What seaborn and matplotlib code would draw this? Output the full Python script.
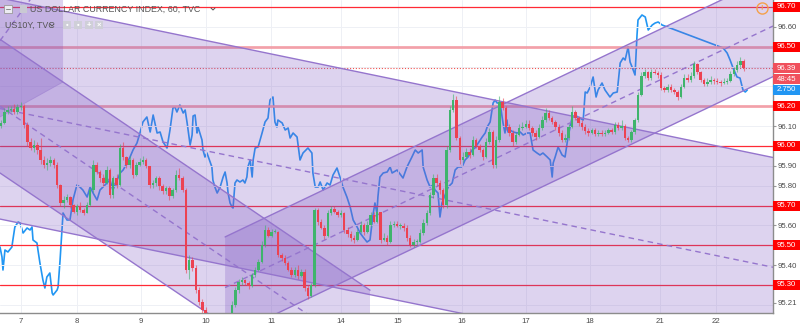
import numpy as np
import matplotlib
matplotlib.use("Agg")
import matplotlib.pyplot as plt
import seaborn as sns
from matplotlib.patches import Polygon, Rectangle
from matplotlib.lines import Line2D
from matplotlib.transforms import blended_transform_factory

sns.set_theme(style="white")
plt.rcParams["font.family"] = ["Liberation Sans", "DejaVu Sans"]

# ---------------- US Dollar Index, 60-minute bars ----------------
first_open = 96.10
close = [
    96.116, 96.171, 96.181, 96.186, 96.171, 96.196, 96.201, 96.106, 96.020, 95.990,
    96.005, 95.980, 95.929, 95.904, 95.914, 95.929, 95.904, 95.803, 95.713, 95.728,
    95.743, 95.703, 95.668, 95.698, 95.678, 95.663, 95.703, 95.778, 95.904, 95.869,
    95.839, 95.814, 95.879, 95.753, 95.839, 95.803, 95.990, 95.945, 95.904, 95.929,
    95.854, 95.904, 95.919, 95.929, 95.899, 95.803, 95.814, 95.839, 95.798, 95.773,
    95.788, 95.748, 95.778, 95.854, 95.839, 95.778, 95.376, 95.426, 95.386, 95.275,
    95.214, 95.174, 95.124, 95.048, 94.998, 94.973, 94.998, 95.023, 94.998, 95.048,
    95.199, 95.275, 95.315, 95.325, 95.310, 95.295, 95.350, 95.376, 95.416, 95.501,
    95.577, 95.547, 95.567, 95.567, 95.451, 95.436, 95.411, 95.376, 95.350, 95.376,
    95.345, 95.365, 95.285, 95.245, 95.300, 95.678, 95.617, 95.587, 95.547, 95.663,
    95.683, 95.668, 95.652, 95.663, 95.577, 95.557, 95.537, 95.527, 95.567, 95.602,
    95.567, 95.602, 95.652, 95.617, 95.668, 95.527, 95.537, 95.517, 95.602, 95.607,
    95.597, 95.597, 95.587, 95.537, 95.501, 95.517, 95.517, 95.562, 95.612, 95.663,
    95.753, 95.839, 95.814, 95.778, 95.703, 95.980, 96.181, 96.231, 96.040, 95.929,
    95.945, 95.970, 95.955, 96.030, 96.000, 95.980, 95.945, 96.020, 96.070, 95.904,
    96.030, 96.221, 96.191, 96.096, 96.065, 96.020, 96.055, 96.091, 96.096, 96.111,
    96.091, 96.065, 96.045, 96.091, 96.131, 96.166, 96.141, 96.121, 96.096, 96.065,
    96.030, 96.040, 96.096, 96.171, 96.141, 96.116, 96.096, 96.075, 96.065, 96.080,
    96.060, 96.065, 96.060, 96.065, 96.080, 96.070, 96.106, 96.091, 96.101, 96.040,
    96.030, 96.070, 96.131, 96.257, 96.352, 96.372, 96.342, 96.372, 96.367, 96.357,
    96.292, 96.282, 96.297, 96.282, 96.272, 96.247, 96.297, 96.342, 96.332, 96.352,
    96.413, 96.372, 96.332, 96.312, 96.322, 96.332, 96.327, 96.322, 96.317, 96.322,
    96.327, 96.362, 96.383, 96.408, 96.428, 96.392,
]
high = [
    96.13, 96.19, 96.20, 96.20, 96.21, 96.21, 96.22, 96.21, 96.12, 96.04,
    96.03, 96.02, 96.04, 95.95, 95.94, 95.95, 95.94, 95.92, 95.81, 95.75,
    95.76, 95.75, 95.71, 95.71, 95.72, 95.69, 95.72, 95.79, 95.93, 95.92,
    95.88, 95.86, 95.90, 95.89, 95.85, 95.86, 96.01, 96.02, 95.95, 95.95,
    95.94, 95.92, 95.94, 95.95, 95.94, 95.90, 95.83, 95.85, 95.85, 95.81,
    95.80, 95.80, 95.79, 95.88, 95.89, 95.85, 95.79, 95.45, 95.44, 95.40,
    95.29, 95.23, 95.19, 95.13, 95.06, 95.01, 95.01, 95.04, 95.04, 95.06,
    95.22, 95.29, 95.33, 95.34, 95.33, 95.32, 95.36, 95.39, 95.43, 95.52,
    95.60, 95.59, 95.58, 95.58, 95.57, 95.46, 95.45, 95.42, 95.39, 95.39,
    95.40, 95.38, 95.38, 95.30, 95.31, 95.69, 95.69, 95.63, 95.60, 95.68,
    95.70, 95.70, 95.68, 95.68, 95.67, 95.59, 95.57, 95.55, 95.58, 95.62,
    95.61, 95.62, 95.67, 95.67, 95.69, 95.67, 95.56, 95.55, 95.62, 95.62,
    95.62, 95.61, 95.61, 95.60, 95.55, 95.53, 95.53, 95.58, 95.63, 95.68,
    95.77, 95.86, 95.86, 95.83, 95.79, 96.00, 96.20, 96.26, 96.25, 96.05,
    95.97, 95.99, 95.99, 96.05, 96.04, 96.01, 95.99, 96.04, 96.09, 96.08,
    96.05, 96.25, 96.24, 96.20, 96.11, 96.08, 96.07, 96.11, 96.12, 96.13,
    96.13, 96.10, 96.08, 96.11, 96.15, 96.19, 96.18, 96.15, 96.13, 96.11,
    96.08, 96.06, 96.11, 96.20, 96.18, 96.15, 96.13, 96.11, 96.09, 96.09,
    96.09, 96.08, 96.08, 96.08, 96.09, 96.09, 96.12, 96.12, 96.13, 96.11,
    96.05, 96.08, 96.14, 96.27, 96.37, 96.39, 96.38, 96.39, 96.39, 96.38,
    96.37, 96.30, 96.31, 96.31, 96.29, 96.28, 96.31, 96.36, 96.36, 96.37,
    96.43, 96.42, 96.38, 96.34, 96.34, 96.35, 96.34, 96.34, 96.33, 96.34,
    96.34, 96.38, 96.40, 96.43, 96.45, 96.44,
]
low = [
    96.09, 96.11, 96.16, 96.17, 96.16, 96.16, 96.18, 96.09, 96.00, 95.98,
    95.97, 95.96, 95.91, 95.89, 95.88, 95.90, 95.89, 95.79, 95.70, 95.69,
    95.72, 95.69, 95.66, 95.65, 95.67, 95.65, 95.66, 95.70, 95.77, 95.86,
    95.82, 95.80, 95.81, 95.74, 95.74, 95.79, 95.80, 95.93, 95.89, 95.89,
    95.84, 95.85, 95.90, 95.91, 95.89, 95.79, 95.79, 95.80, 95.78, 95.76,
    95.76, 95.73, 95.74, 95.77, 95.83, 95.77, 95.36, 95.33, 95.37, 95.26,
    95.20, 95.16, 95.11, 95.03, 94.98, 94.96, 94.96, 94.99, 94.98, 94.99,
    95.04, 95.19, 95.26, 95.30, 95.30, 95.28, 95.29, 95.34, 95.37, 95.41,
    95.49, 95.54, 95.54, 95.56, 95.44, 95.42, 95.40, 95.37, 95.34, 95.34,
    95.33, 95.34, 95.27, 95.23, 95.24, 95.29, 95.60, 95.58, 95.53, 95.54,
    95.65, 95.66, 95.64, 95.64, 95.56, 95.54, 95.52, 95.51, 95.52, 95.56,
    95.55, 95.56, 95.59, 95.61, 95.61, 95.51, 95.52, 95.50, 95.51, 95.59,
    95.59, 95.58, 95.57, 95.52, 95.49, 95.49, 95.50, 95.51, 95.55, 95.60,
    95.65, 95.74, 95.80, 95.76, 95.69, 95.69, 95.97, 96.17, 96.03, 95.91,
    95.92, 95.94, 95.94, 95.95, 95.99, 95.97, 95.93, 95.94, 96.01, 95.89,
    95.89, 96.02, 96.18, 96.08, 96.05, 96.00, 96.01, 96.05, 96.08, 96.09,
    96.08, 96.05, 96.03, 96.04, 96.08, 96.12, 96.13, 96.11, 96.08, 96.05,
    96.02, 96.02, 96.03, 96.09, 96.13, 96.10, 96.08, 96.06, 96.05, 96.06,
    96.05, 96.05, 96.05, 96.05, 96.06, 96.06, 96.06, 96.08, 96.08, 96.03,
    96.02, 96.02, 96.06, 96.12, 96.25, 96.34, 96.33, 96.33, 96.36, 96.34,
    96.28, 96.27, 96.27, 96.27, 96.26, 96.23, 96.24, 96.29, 96.32, 96.32,
    96.34, 96.36, 96.32, 96.30, 96.30, 96.31, 96.31, 96.31, 96.30, 96.31,
    96.31, 96.32, 96.35, 96.37, 96.40, 96.38,
]

# ---------------- US 10Y yield (compare series), bar-time vs. yield ----------------
us10y_t = [
    -0.3, 0.3, 0.6, 1.2, 2.1, 3.3, 3.6, 4.2, 5.2, 5.8, 6.7, 7.9, 8.8, 9.4, 9.7, 10.9,
    11.2, 11.8, 12.7, 13.3, 13.9, 14.8, 15.5, 15.8, 17.0, 17.3, 17.9, 18.8, 20.0, 20.9,
    21.8, 23.0, 23.9, 24.8, 26.1, 27.0, 27.9, 29.1, 30.0, 30.9, 32.1, 33.0, 33.9, 35.2,
    36.1, 37.0, 38.2, 39.1, 40.0, 41.2, 42.1, 43.0, 44.2, 45.2, 46.1, 47.3, 48.2, 49.1,
    50.3, 51.2, 52.1, 52.7, 53.3, 54.2, 55.2, 55.8, 56.4, 57.3, 57.9, 58.2, 58.8, 59.4,
    59.7, 60.9, 61.2, 61.8, 62.4, 63.9, 64.2, 64.8, 65.5, 66.4, 67.3, 67.9, 68.5, 68.8,
    69.4, 70.0, 70.3, 70.9, 71.5, 72.4, 73.3, 73.9, 74.5, 74.8, 75.5, 76.1, 76.4, 77.0,
    77.9, 79.1, 80.0, 80.9, 81.5, 82.4, 83.0, 83.6, 83.9, 85.2, 86.1, 87.0, 87.6, 88.5,
    89.7, 90.6, 91.5, 93.0, 94.2, 94.5, 95.2, 96.1, 96.7, 97.6, 98.8, 99.7, 100.6, 101.8,
    102.7, 103.6, 104.8, 105.8, 106.7, 107.9, 108.8, 109.7, 110.9, 111.8, 112.7, 113.3,
    113.9, 114.2, 114.8, 115.8, 117.0, 117.9, 118.5, 120.0, 121.8, 123.0, 124.5, 125.5,
    126.4, 127.6, 127.9, 129.1, 130.0, 130.9, 131.5, 132.4, 133.0, 133.6, 135.5, 136.7,
    137.6, 138.5, 139.7, 140.6, 141.5, 142.7, 143.6, 145.8, 146.7, 147.3, 148.2, 149.1,
    149.7, 150.3, 151.2, 152.1, 152.7, 153.3, 153.6, 154.2, 155.2, 156.4, 157.3, 158.2,
    159.4, 160.3, 161.2, 162.4, 163.3, 164.2, 165.5, 166.4, 167.0, 167.3, 167.9, 168.8,
    170.0, 170.9, 171.8, 173.0, 173.9, 174.8, 176.4, 177.0, 177.6, 178.5, 179.4, 180.3,
    180.9, 182.1, 183.0, 184.5, 185.5, 186.7, 187.6, 188.5, 189.1, 190.0, 190.6, 191.2,
    192.1, 192.7, 193.0, 194.2, 195.2, 196.1, 197.3, 198.2, 199.1, 200.3, 218.8, 220.0,
    220.9, 221.8, 223.0, 223.9, 224.8, 225.5, 226.1,
]
us10y = [
    2.6715, 2.6665, 2.660, 2.670, 2.669, 2.6715, 2.675, 2.6815, 2.684, 2.6835, 2.6785,
    2.681, 2.680, 2.6815, 2.675, 2.6735, 2.670, 2.6635, 2.655, 2.651, 2.6565, 2.6585,
    2.6485, 2.6475, 2.650, 2.6515, 2.665, 2.6885, 2.685, 2.685, 2.695, 2.7025, 2.7015,
    2.700, 2.6965, 2.7015, 2.6985, 2.695, 2.700, 2.7015, 2.7035, 2.705, 2.700, 2.705,
    2.7085, 2.710, 2.7135, 2.7165, 2.720, 2.7235, 2.7285, 2.734, 2.7365, 2.729, 2.7375,
    2.7285, 2.729, 2.724, 2.721, 2.730, 2.741, 2.7415, 2.739, 2.7425, 2.7385, 2.740,
    2.7335, 2.7225, 2.7275, 2.737, 2.7375, 2.7285, 2.7315, 2.725, 2.720, 2.7165, 2.7185,
    2.7115, 2.705, 2.7015, 2.6985, 2.7015, 2.7065, 2.709, 2.7035, 2.6985, 2.6935, 2.6915,
    2.691, 2.7035, 2.705, 2.704, 2.705, 2.7035, 2.7065, 2.7115, 2.715, 2.7065, 2.715,
    2.721, 2.7215, 2.7285, 2.734, 2.736, 2.745, 2.7465, 2.734, 2.7315, 2.735, 2.7335,
    2.730, 2.731, 2.726, 2.7285, 2.7265, 2.715, 2.7185, 2.721, 2.7185, 2.7085, 2.7015,
    2.7015, 2.704, 2.700, 2.7035, 2.7025, 2.7075, 2.711, 2.7065, 2.7015, 2.6965, 2.6915,
    2.685, 2.6815, 2.6785, 2.6765, 2.674, 2.675, 2.6875, 2.6935, 2.6885, 2.6965, 2.7065,
    2.7085, 2.709, 2.7115, 2.7085, 2.710, 2.706, 2.7115, 2.7165, 2.720, 2.7185, 2.720,
    2.7115, 2.705, 2.7015, 2.7025, 2.700, 2.6985, 2.6865, 2.6935, 2.7015, 2.7035, 2.710,
    2.7115, 2.7115, 2.715, 2.7165, 2.720, 2.721, 2.7265, 2.7285, 2.7315, 2.734, 2.7435,
    2.745, 2.7435, 2.7435, 2.7335, 2.7285, 2.735, 2.729, 2.730, 2.729, 2.7285, 2.729,
    2.7275, 2.7285, 2.7285, 2.720, 2.7185, 2.7175, 2.7185, 2.7165, 2.715, 2.7065, 2.7135,
    2.7165, 2.7215, 2.7175, 2.7165, 2.7265, 2.736, 2.7375, 2.7365, 2.735, 2.749, 2.7485,
    2.7515, 2.7565, 2.7465, 2.750, 2.7535, 2.750, 2.7465, 2.7485, 2.749, 2.7635, 2.766,
    2.765, 2.7715, 2.764, 2.7615, 2.7575, 2.7775, 2.785, 2.7875, 2.7865, 2.780, 2.7825,
    2.7835, 2.784, 2.7825, 2.771, 2.7685, 2.765, 2.761, 2.7565, 2.756, 2.750, 2.749, 2.750,
]

# ---------------- axis labels / price levels ----------------
day_ticks = [6.06, 23.03, 42.42, 62.12, 81.82, 103.03, 120.3, 139.7, 159.1, 178.5, 199.7, 216.7]
day_labels = ["7", "8", "9", "10", "11", "14", "15", "16", "17", "18", "21", "22"]
levels_marked = [96.70, 96.50, 96.20, 96.00, 95.70, 95.50, 95.30]
levels_plain = [96.60, 96.10, 95.90, 95.80, 95.60, 95.40, 95.21]

# ---------------- drawings: trend channels (bar, price anchors) ----------------
CH_DOWN = (-0.3, 233.9, (96.745, 95.942), (95.632, 94.837))
CH_STEEP = (-0.3, 111.8, (96.537, 95.274), (95.864, 94.606))
CH_UP = (67.9, 233.9, (95.542, 96.859), (95.032, 96.349))
CORNER = [(-0.3, 96.80), (18.8, 96.80), (18.8, 96.322), (-0.3, 96.146)]

# ---------------- styling ----------------
UP_C, DN_C = "#3fb46c", "#ec4252"
FILL_C, FILL_A = "#7e57c2", 0.26
LINE_C = "#9575cd"
TXT_C = "#4a4a4a"
FS = 5.6

fig = plt.figure(figsize=(8.0, 3.27), dpi=100, facecolor="white")
ax = fig.add_axes([0, 14 / 327, 773 / 800, 313 / 327])
ax2 = ax.twinx()
ax.set_zorder(2)
ax2.set_zorder(1)
ax.patch.set_visible(False)
ax2.set_facecolor("white")

# compare series (drawn underneath the drawings)
sns.lineplot(x=us10y_t, y=us10y, ax=ax2, color="#2196f3", linewidth=1.2,
             estimator=None, sort=False)
ax2.set_ylim(2.6385, 2.795)
ax2.set_yticks([])
ax2.set_ylabel("")
for s in ax2.spines.values():
    s.set_visible(False)

# faint grid
for p in np.arange(95.2, 96.75, 0.1):
    ax.axhline(p, color="#eef0f5", lw=0.7, zorder=0.6)
for d in day_ticks:
    ax.axvline(d, color="#eef0f5", lw=0.7, zorder=0.6)

# horizontal support / resistance levels
for lvl in levels_marked:
    if lvl in (96.50, 96.20):
        ax.axhline(lvl, color="#f28d97", lw=2.0, alpha=0.8, zorder=1)
    else:
        ax.axhline(lvl, color="#ff2a35", lw=0.9, zorder=1)
ax.axhline(close[-1], color="#ef5350", lw=0.8, ls=(0, (1, 1.6)), zorder=1)


def channel(spec, mid=True):
    x0, x1, up, lo = spec
    ax.add_patch(Polygon([(x0, up[0]), (x1, up[1]), (x1, lo[1]), (x0, lo[0])],
                         closed=True, fc=FILL_C, alpha=FILL_A, ec="none", zorder=2))
    ax.plot([x0, x1], up, color=LINE_C, lw=1.0, zorder=2.5)
    ax.plot([x0, x1], lo, color=LINE_C, lw=1.0, zorder=2.5)
    if mid:
        ax.plot([x0, x1], [(up[0] + lo[0]) / 2, (up[1] + lo[1]) / 2], color=LINE_C,
                lw=1.0, ls=(0, (4, 3)), zorder=2.5)


channel(CH_DOWN)
channel(CH_STEEP)
channel(CH_UP)
ax.add_patch(Polygon(CORNER, closed=True, fc=FILL_C, alpha=FILL_A, ec="none", zorder=2))
ax.plot([CORNER[3][0], CORNER[2][0]], [CORNER[3][1], CORNER[2][1]], color=LINE_C,
        lw=0.6, alpha=0.5, zorder=2.5)
ax.plot([-0.3, 9.0], [96.53, 96.74], color=LINE_C, lw=1.0, ls=(0, (4, 3)), zorder=2.5)

# candlesticks
c = np.asarray(close)
o = np.r_[first_open, c[:-1]]
t = np.arange(len(c))
cols = np.where(c >= o, UP_C, DN_C)
ax.vlines(t, low, high, colors=cols, lw=0.8, alpha=0.6, zorder=3)
body_lo = np.minimum(o, c)
body_h = np.maximum(np.abs(c - o), 0.004)
ax.bar(t, body_h, bottom=body_lo, width=0.74, color=cols, linewidth=0, zorder=4)

# axes limits and ticks
ax.set_xlim(-0.3, 233.9)
ax.set_ylim(95.159, 96.735)
ax.yaxis.tick_right()
ax.set_yticks(levels_plain)
ax.set_yticklabels([f"{v:.2f}" for v in levels_plain])
ax.set_xticks(day_ticks)
ax.set_xticklabels(day_labels)
ax.tick_params(axis="y", length=2, width=0.8, color="#9a9a9a", pad=1.2,
               labelsize=FS, labelcolor=TXT_C)
ax.tick_params(axis="x", length=2, width=0.8, color="#9a9a9a", pad=1.8,
               labelsize=FS, labelcolor=TXT_C)
ax.set_xlabel("")
ax.set_ylabel("")
ax.spines["left"].set_visible(False)
ax.spines["top"].set_visible(False)
for side in ("right", "bottom"):
    ax.spines[side].set_color("#8c8c8c")
    ax.spines[side].set_linewidth(1.0)

# price-scale tags
tr = blended_transform_factory(ax.transAxes, ax.transData)
tr2 = blended_transform_factory(ax.transAxes, ax2.transData)
box_w = 27 / 773
tx = 777 / 773


def tag(y, text, fc, trans, half):
    ax.add_patch(Rectangle((1.0, y - half), box_w, 2 * half, transform=trans,
                           fc=fc, ec="none", clip_on=False, zorder=9))
    ax.text(tx, y, text, transform=trans, ha="left", va="center", fontsize=FS,
            color="white", clip_on=False, zorder=10)


for lvl in levels_marked:
    tag(lvl, f"{lvl:.2f}", "#ff0000", tr, 0.025)
tag(close[-1], f"{close[-1]:.2f}", "#f0505c", tr, 0.025)
tag(close[-1] - 0.056, "48:45", "#f0505c", tr, 0.024)
tag(us10y[-1], f"{us10y[-1]:.3f}", "#2196f3", tr2, 0.0024)

# alert icon
ax.plot([762 / 773], [1 - 8 / 313], marker="o", ms=8, mfc="none", mec="#f5a04a",
        mew=1.0, transform=ax.transAxes, clip_on=False, zorder=11)
ax.text(762 / 773, 1 - 8.5 / 313, "!", transform=ax.transAxes, ha="center",
        va="center", fontsize=5.5, color="#f5a04a", fontweight="bold", zorder=11)

# legend header
W, H = 800, 327


def fx(px):
    return px / W


def fy(py):
    return 1 - py / H


fig.add_artist(Rectangle((fx(4), fy(13)), 8 / W, 8 / H, transform=fig.transFigure,
                         fc="#ececf2", ec="#9a9a9a", lw=0.6, zorder=20))
fig.add_artist(Line2D([fx(6), fx(10)], [fy(9), fy(9)], color="#8a8a8a", lw=0.7, zorder=21))
fig.add_artist(Rectangle((fx(20), fy(12.5)), 7 / W, 7 / H, transform=fig.transFigure,
                         fc="#c9c9d3", ec="none", zorder=20))
fig.text(fx(30), fy(9), "US DOLLAR CURRENCY INDEX, 60, TVC", fontsize=6.4,
         color="#555555", ha="left", va="center", zorder=21)
fig.add_artist(Line2D([fx(211), fx(213), fx(215)], [fy(8), fy(10), fy(8)],
                      color="#555555", lw=0.7, zorder=21))
fig.text(fx(5), fy(25), "US10Y, TVC", fontsize=6.4, color="#555555", ha="left",
         va="center", zorder=21)
fig.add_artist(Line2D([fx(50), fx(52), fx(54)], [fy(24), fy(26), fy(24)],
                      color="#555555", lw=0.7, zorder=21))
for x0, g in zip((63, 74, 85, 95), ("•", "•", "+", "×")):
    fig.add_artist(Rectangle((fx(x0), fy(29)), 8 / W, 8 / H, transform=fig.transFigure,
                             fc="#cfcfd8", ec="none", zorder=20))
    fig.text(fx(x0 + 4), fy(25), g, fontsize=5.5, color="white", ha="center",
             va="center", fontweight="bold", zorder=21)

fig.savefig("out.png", dpi=100, facecolor="white")
